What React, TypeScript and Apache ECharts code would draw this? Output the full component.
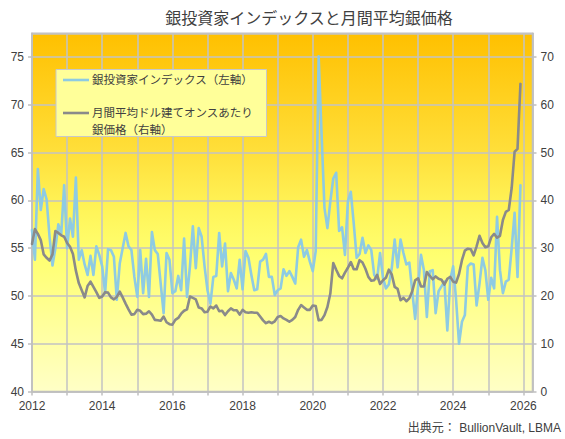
import React, { useEffect, useRef } from "react";
import * as echarts from "echarts";

const START_YEAR = 2012;
const X_TICK_LABELS = ["2012", "2014", "2016", "2018", "2020", "2022", "2024", "2026"];
const TITLE = "銀投資家インデックスと月間平均銀価格";
const SERIES_NAMES = ["銀投資家インデックス（左軸）", "月間平均ドル建てオンスあたり銀価格（右軸）"];
const SOURCE = "出典元： BullionVault, LBMA";

// Silver Investor Index (left axis), monthly Jan 2012 – Dec 2025
const investorIndex = [
  56.9, 53.8, 63.3, 59.0, 61.2, 60.1, 56.2, 53.2, 55.0, 57.5, 56.5, 61.6,
  55.0, 58.1, 56.2, 62.4, 53.8, 54.8, 53.3, 52.2, 54.2, 52.2, 55.2, 54.3,
  53.1, 50.3, 54.9, 54.8, 54.1, 49.6, 53.4, 55.0, 56.6, 55.2, 54.8, 52.0,
  49.9, 54.8, 50.3, 53.9, 49.9, 56.7, 54.8, 54.4, 51.3, 48.2, 54.5, 53.8,
  50.3, 50.5, 52.1, 50.6, 56.0, 49.9, 53.1, 57.3, 52.9, 57.1, 56.2, 53.1,
  50.6, 49.2, 52.0, 52.1, 56.6, 53.1, 55.5, 50.5, 52.4, 51.7, 50.8, 53.8,
  50.7, 54.7, 54.0, 52.2, 50.6, 50.7, 53.6, 53.8, 54.4, 52.0, 52.0, 50.1,
  50.6, 50.8, 52.8, 52.1, 52.6, 52.0, 51.3, 55.1, 55.9, 54.1, 54.8, 53.6,
  52.6, 54.7, 75.1, 67.0, 59.2, 57.1, 59.9, 62.3, 62.9, 56.8, 57.2, 54.3,
  59.9, 60.9, 57.6, 54.0, 54.4, 56.1, 54.5, 55.3, 54.8, 52.2, 51.8, 54.5,
  51.9, 50.8, 51.2, 52.9, 55.9, 53.0, 55.9, 54.5, 53.3, 53.5, 50.5, 47.6,
  51.0, 54.3, 52.7, 47.8, 52.6, 52.7, 48.2, 50.5, 51.0, 51.5, 46.4, 51.7,
  53.1, 49.6, 45.0, 47.3, 48.0, 53.1, 53.4, 53.3, 49.0, 51.3, 54.0, 52.7,
  49.6, 51.9, 50.8, 58.3, 52.7, 50.3, 51.5, 51.7, 55.0, 58.7, 52.0, 61.6,
];

// Monthly average USD silver price per ounce (right axis), Jan 2012 – Dec 2025
const silverPrice = [
  30.9, 34.0, 33.0, 31.7, 28.7, 28.0, 27.4, 28.7, 33.6, 33.2, 32.7, 32.4,
  31.1, 30.3, 28.8, 25.3, 22.7, 21.2, 19.7, 22.1, 23.0, 21.9, 20.8, 19.6,
  19.9, 20.8, 20.7, 19.7, 19.3, 19.8, 20.9, 19.7, 18.4, 17.2, 16.1, 16.2,
  17.1, 16.9, 16.2, 16.3, 16.8, 16.1, 15.0, 14.9, 14.8, 15.7, 14.5, 14.1,
  14.0, 15.0, 15.4, 16.3, 16.9, 17.2, 19.9, 19.6, 19.3, 17.6, 17.4, 16.6,
  16.7, 17.8, 17.4, 18.0, 16.8, 16.9, 16.0, 16.8, 17.4, 17.0, 17.0, 16.1,
  17.1, 16.6, 16.5, 16.6, 16.5, 16.5, 15.7, 14.9, 14.3, 14.6, 14.3, 14.7,
  15.6, 15.8, 15.3, 15.0, 14.6, 15.0, 15.6, 17.1, 18.1, 17.6, 17.1, 17.1,
  18.0, 17.9, 14.9, 15.0, 16.0, 17.7, 20.5, 26.9, 25.5, 24.2, 23.7, 24.9,
  25.9, 27.1, 25.6, 25.6, 27.5, 27.0, 25.7, 24.0, 23.2, 23.3, 24.4, 22.5,
  23.3, 23.8, 25.5, 24.5, 21.9, 21.5, 19.1, 19.6, 18.9, 19.5, 21.0, 23.3,
  23.7, 22.0, 22.0, 25.0, 24.2, 23.5, 24.1, 23.6, 23.4, 22.4, 23.6, 24.0,
  23.0, 22.8, 24.6, 27.5, 29.5, 29.9, 29.8, 28.5, 30.4, 32.6, 31.1, 30.2,
  30.4, 32.3, 33.0, 32.2, 32.6, 35.9, 37.6, 38.0, 42.6, 50.2, 50.8, 64.4,
];

const FONT = '"Liberation Sans", Arial, "Noto Sans CJK JP", sans-serif';
const TEXT_COLOR = "#404040";
const BLUE = "#8ECBE3";
const GREY = "#8A8A8A";
const GRID_COLOR = "#C3C3C3";

export default function App() {
  const ref = useRef<HTMLDivElement>(null);

  useEffect(() => {
    if (!ref.current) return;
    const chart = echarts.init(ref.current, null, { renderer: "svg" });
    const toPairs = (arr: number[]) => arr.map((v, i) => [START_YEAR + i / 12, v]);

    const txt = (text: string, x: number, y: number, size: number, align: string) => ({
      type: "text",
      x,
      y,
      z: 20,
      style: {
        text,
        fill: TEXT_COLOR,
        fontSize: size,
        fontFamily: FONT,
        align,
        textAlign: align,
        verticalAlign: "middle",
        textVerticalAlign: "middle",
      },
    });

    chart.setOption({
      animation: false,
      backgroundColor: "#ffffff",
      textStyle: { fontFamily: FONT },
      grid: {
        left: 32,
        right: 32.5,
        top: 33.3,
        bottom: 47.5,
        show: true,
        borderColor: "#BFBFBF",
        borderWidth: 1.5,
        backgroundColor: new echarts.graphic.LinearGradient(0, 0, 0, 1, [
          { offset: 0, color: "#FFC000" },
          { offset: 0.33, color: "#FFDF3A" },
          { offset: 0.5, color: "#FFF55A" },
          { offset: 0.62, color: "#FFFF70" },
          { offset: 1, color: "#FFFFC6" },
        ]),
      },
      xAxis: {
        type: "value",
        min: 2012,
        max: 2026.26,
        interval: 1,
        axisLine: { show: true, lineStyle: { color: "#BFBFBF", width: 1.5 } },
        axisTick: { show: true, length: 4, lineStyle: { color: "#BFBFBF", width: 1.5 } },
        axisLabel: {
          color: TEXT_COLOR,
          fontSize: 12,
          fontFamily: FONT,
          margin: 8,
          showMaxLabel: false,
          formatter: (v: number) => (X_TICK_LABELS.includes(String(v)) ? String(v) : ""),
        },
        splitLine: { show: true, lineStyle: { color: GRID_COLOR, width: 1.5 } },
      },
      yAxis: [
        {
          type: "value",
          position: "left",
          min: 40,
          max: 77.5,
          interval: 5,
          axisLine: { show: true, lineStyle: { color: "#BFBFBF", width: 1.5 } },
          axisTick: { show: true, length: 4, lineStyle: { color: "#BFBFBF", width: 1.5 } },
          axisLabel: {
            color: TEXT_COLOR,
            fontSize: 12,
            fontFamily: FONT,
            margin: 8,
            showMaxLabel: false,
            formatter: (v: number) => (v % 5 === 0 ? String(v) : ""),
          },
          splitLine: { show: true, lineStyle: { color: GRID_COLOR, width: 1.5 } },
        },
        {
          type: "value",
          position: "right",
          min: 0,
          max: 75,
          interval: 10,
          axisLine: { show: true, lineStyle: { color: "#BFBFBF", width: 1.5 } },
          axisTick: { show: true, length: 4, lineStyle: { color: "#BFBFBF", width: 1.5 } },
          axisLabel: {
            color: TEXT_COLOR,
            fontSize: 12,
            fontFamily: FONT,
            margin: 8,
            showMaxLabel: false,
            formatter: (v: number) => (v % 10 === 0 ? String(v) : ""),
          },
          splitLine: { show: false },
        },
      ],
      series: [
        {
          name: SERIES_NAMES[0],
          type: "line",
          yAxisIndex: 0,
          data: toPairs(investorIndex),
          showSymbol: false,
          symbol: "none",
          z: 3,
          lineStyle: { color: BLUE, width: 2.6, join: "round", cap: "round" },
        },
        {
          name: SERIES_NAMES[1],
          type: "line",
          yAxisIndex: 1,
          data: toPairs(silverPrice),
          showSymbol: false,
          symbol: "none",
          z: 4,
          lineStyle: { color: GREY, width: 2.6, join: "round", cap: "round" },
        },
      ],
      graphic: [
        txt(TITLE, 309, 18.5, 16, "center"),
        {
          type: "rect",
          z: 19,
          shape: { x: 56, y: 69.5, width: 210.5, height: 67 },
          style: { fill: "#FFFF99", stroke: "#C8C8C8", lineWidth: 1 },
        },
        {
          type: "line",
          z: 20,
          shape: { x1: 63, y1: 80, x2: 89, y2: 80 },
          style: { stroke: BLUE, lineWidth: 2.6 },
        },
        txt(SERIES_NAMES[0], 92, 80, 11.5, "left"),
        {
          type: "line",
          z: 20,
          shape: { x1: 63, y1: 113, x2: 89, y2: 113 },
          style: { stroke: GREY, lineWidth: 2.6 },
        },
        txt("月間平均ドル建てオンスあたり", 92, 113, 11.5, "left"),
        txt("銀価格（右軸）", 92, 129.5, 11.5, "left"),
        txt(SOURCE, 561, 428, 12, "right"),
      ],
    });

    return () => chart.dispose();
  }, []);

  return (
    <div
      ref={ref}
      style={{ position: "absolute", left: 0, top: 0, width: 565, height: 439 }}
    />
  );
}
